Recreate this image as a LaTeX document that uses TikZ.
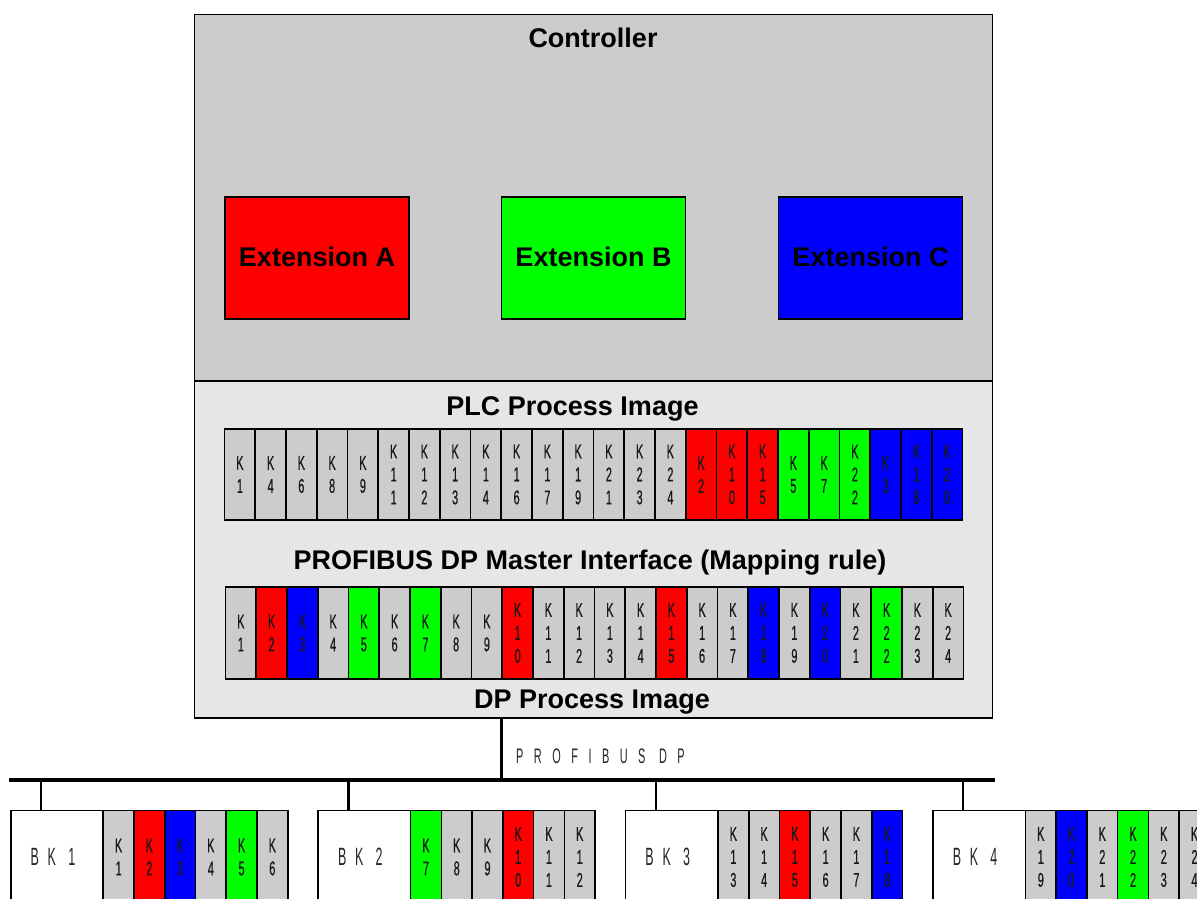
\documentclass[tikz,border=0pt]{standalone}
\usepackage{fontspec}
\setmainfont{Liberation Sans}
\newfontfamily\narrowsans[FakeStretch=0.55,FakeBold=0.6]{Liberation Sans}
\newfontfamily\bksans[FakeStretch=0.5,LetterSpace=35]{Liberation Sans}
\newfontfamily\bussans[FakeStretch=0.52,LetterSpace=50]{Liberation Sans}
\usetikzlibrary{positioning}

\definecolor{ctrlgray}{HTML}{CCCCCC}
\definecolor{imggray}{HTML}{E6E6E6}
\definecolor{kgray}{HTML}{CCCCCC}
\definecolor{kred}{HTML}{FF0000}
\definecolor{kgreen}{HTML}{00FF00}
\definecolor{kblue}{HTML}{0000FF}

% K label: "K" over the digits of the number
\def\ksplit#1#2{#1\\#2}
\newcommand\klabel[1]{K\\\ifnum#1<10 #1\else\expandafter\ksplit#1\fi}

\begin{document}
\begin{tikzpicture}[
x=1pt, y=-1pt,
title/.style={font=\fontsize{27}{30}\selectfont\bfseries, inner sep=0pt, anchor=base},
frame/.style={draw, line width=1.6pt, inner sep=0pt, minimum width=798pt},
extbox/.style={draw, line width=1.6pt, inner sep=0pt, minimum width=184pt, minimum height=122pt},
kcell/.style={draw, line width=1.6pt, inner sep=0pt, minimum width=30.75pt, align=center, text=black!90, font=\narrowsans\fontsize{20}{23}\selectfont},
bkhead/.style={draw, line width=1.6pt, fill=white, inner sep=0pt, minimum width=92.5pt, minimum height=93pt, text=black!85, font=\bksans\fontsize{25}{28}\selectfont},
busline/.style={line width=3.5pt},
dropline/.style={line width=2.5pt}
]
\useasboundingbox (0,0) rectangle (1197,899);
\clip (0,0) rectangle (1197,899);
\fill[white] (0,0) rectangle (1197,899);

% controller
\node[frame, fill=ctrlgray, minimum height=366.5pt] (ctrl) at (593.5,197.75) {};
\node[frame, fill=imggray, minimum height=337pt] (pimg) at (593.5,549.5) {};
\node[title] (ctrltitle) at (593,47.5) {Controller};

\node[extbox, fill=kred] (extA) at (317,258) {};
\node[extbox, fill=kgreen] (extB) at (593.5,258) {};
\node[extbox, fill=kblue] (extC) at (870.5,258) {};
\node[title] at (317,266) {Extension A};
\node[title] at (593.5,266) {Extension B};
\node[title] at (870.5,266) {Extension C};

% PLC process image
\node[title] (plctitle) at (572.5,415.5) {PLC Process Image};
\foreach \n/\c [count=\i] in {1/kgray,4/kgray,6/kgray,8/kgray,9/kgray,11/kgray,12/kgray,13/kgray,14/kgray,16/kgray,17/kgray,19/kgray,21/kgray,23/kgray,24/kgray,2/kred,10/kred,15/kred,5/kgreen,7/kgreen,22/kgreen,3/kblue,18/kblue,20/kblue}
  \node[kcell, fill=\c, minimum height=91pt] (plc\i) at ({224.5+30.75*(\i-0.5)},474.5) {\klabel{\n}};

% DP master interface
\node[title] (maptitle) at (590,569.3) {PROFIBUS DP Master Interface (Mapping rule)};
\foreach \c [count=\i] in {kgray,kred,kblue,kgray,kgreen,kgray,kgreen,kgray,kgray,kred,kgray,kgray,kgray,kgray,kred,kgray,kgray,kblue,kgray,kblue,kgray,kgreen,kgray,kgray}
  \node[kcell, fill=\c, minimum height=92.5pt] (dp\i) at ({225.5+30.75*(\i-0.5)},633) {\klabel{\i}};
\node[title] (dptitle) at (592,708.3) {DP Process Image};

% PROFIBUS DP line
\coordinate (ctap) at (501.5,780);
\coordinate (busW) at (9,780);
\coordinate (busE) at (995,780);
\draw[dropline] (pimg.south -| ctap) -- (ctap);
\draw[busline] (busW) -- (busE);
\node[text=black!85, font=\bussans\fontsize{21}{24}\selectfont, anchor=base west, inner sep=0pt] (buslabel) at (516,763) {PROFIBUS DP};

% bus couplers
\foreach \b/\cells in {1/{1/kgray,2/kred,3/kblue,4/kgray,5/kgreen,6/kgray},
                       2/{7/kgreen,8/kgray,9/kgray,10/kred,11/kgray,12/kgray},
                       3/{13/kgray,14/kgray,15/kred,16/kgray,17/kgray,18/kblue},
                       4/{19/kgray,20/kblue,21/kgray,22/kgreen,23/kgray,24/kgray}}{
  \node[bkhead] (bk\b) at ({10.7+307.4*(\b-1)+46.25},857) {BK \b\kern8pt};
  \foreach \n/\c [count=\j] in \cells
    \node[kcell, fill=\c, minimum height=93pt] (bk\b c\j) at ({103.2+307.4*(\b-1)+30.75*(\j-0.5)},857) {\klabel{\n}};
  \coordinate (tap\b) at ({41+307.4*(\b-1)},780);
  \draw[dropline] (tap\b) -- (tap\b |- bk\b.north);
}
\end{tikzpicture}
\end{document}
